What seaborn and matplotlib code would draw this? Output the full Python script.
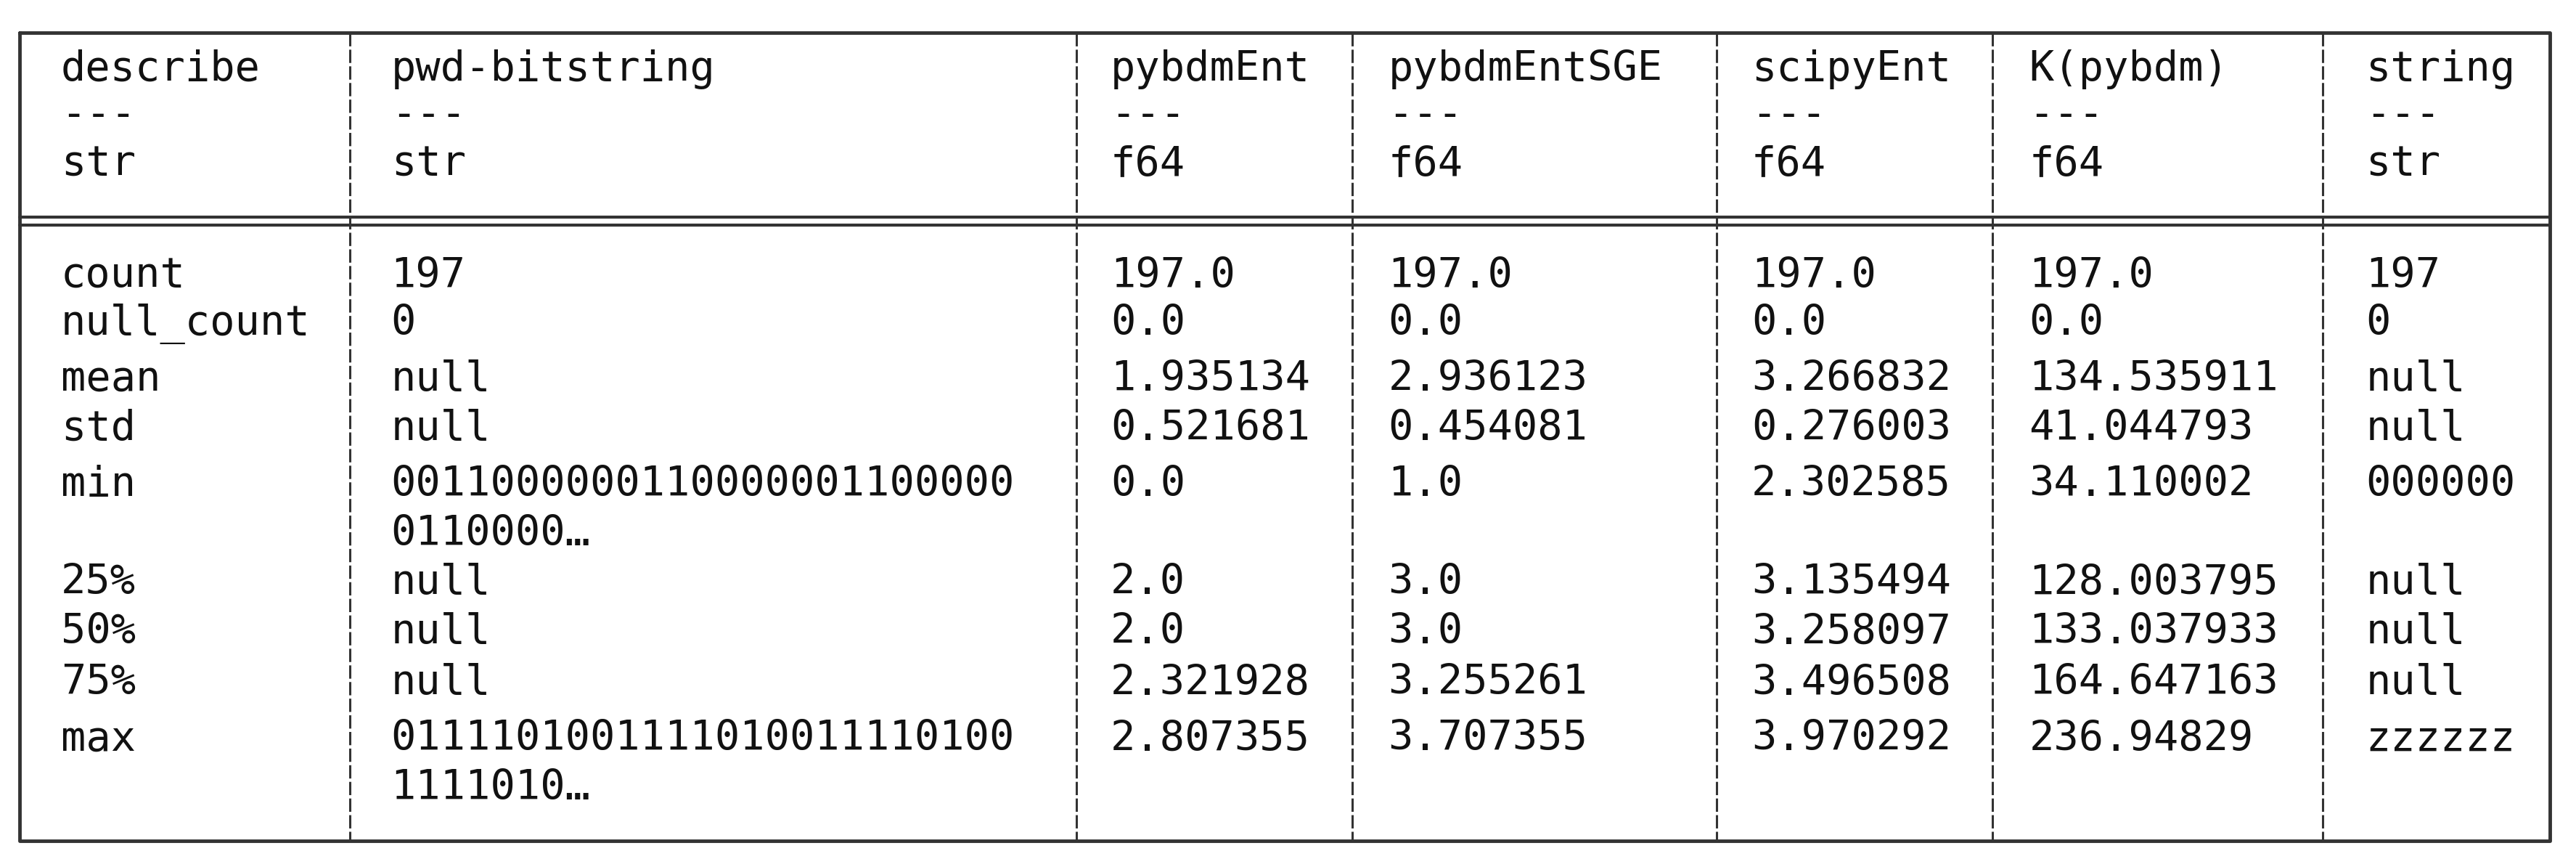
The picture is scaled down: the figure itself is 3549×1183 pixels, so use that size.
import matplotlib
matplotlib.use("Agg")
import matplotlib.pyplot as plt
import seaborn as sns

columns = ["describe", "pwd-bitstring", "pybdmEnt", "pybdmEntSGE", "scipyEnt", "K(pybdm)", "string"]
dtypes = ["str", "str", "f64", "f64", "f64", "f64", "str"]
stats = ["count", "null_count", "mean", "std", "min", "25%", "50%", "75%", "max"]
pwd_bitstring = ["197", "0", "null", "null", "0011000000110000001100000\n0110000…",
                 "null", "null", "null", "0111101001111010011110100\n1111010…"]
pybdm_ent = ["197.0", "0.0", "1.935134", "0.521681", "0.0", "2.0", "2.0", "2.321928", "2.807355"]
pybdm_ent_sge = ["197.0", "0.0", "2.936123", "0.454081", "1.0", "3.0", "3.0", "3.255261", "3.707355"]
scipy_ent = ["197.0", "0.0", "3.266832", "0.276003", "2.302585", "3.135494", "3.258097", "3.496508", "3.970292"]
k_pybdm = ["197.0", "0.0", "134.535911", "41.044793", "34.110002", "128.003795", "133.037933", "164.647163", "236.94829"]
string_col = ["197", "0", "null", "null", "000000", "null", "null", "null", "zzzzzz"]

sns.set_style("white")
plt.rcParams['font.family'] = ['DejaVu Sans Mono']

fig = plt.figure(figsize=(35.49, 11.83), dpi=100)
ax = fig.add_axes([0, 0, 1, 1])
ax.set_xlim(0, 1568)
ax.set_ylim(523, 0)
ax.axis("off")

line_c = "#333333"
left, right, top, bottom = 12, 1552, 20, 512
seps = [213, 655, 823, 1045, 1213, 1414]
text_x = [37, 238, 676, 845, 1066, 1235, 1440]

# outer box
ax.plot([left, right, right, left, left], [top, top, bottom, bottom, top], color=line_c, lw=3.5)
for x in seps:
    ax.plot([x, x], [top, bottom], color=line_c, lw=2.2, dashes=(6, 1.5))
ax.plot([left, right], [132, 132], color=line_c, lw=3)
ax.plot([left, right], [137, 137], color=line_c, lw=3)

fs = 41
for x, name, dt in zip(text_x, columns, dtypes):
    ax.text(x, 42, name, fontsize=fs, va="center", ha="left", color="#111111")
    ax.text(x, 70, "---", fontsize=fs, va="center", ha="left", color="#111111")
    ax.text(x, 100, dt, fontsize=fs, va="center", ha="left", color="#111111")

row_y = [168, 197, 231, 261, 295, 355, 385, 416, 450]
cols_data = [stats, pwd_bitstring, pybdm_ent, pybdm_ent_sge, scipy_ent, k_pybdm, string_col]
for x, vals in zip(text_x, cols_data):
    for y, v in zip(row_y, vals):
        for k, part in enumerate(v.split("\n")):
            ax.text(x, y + k * 30, part, fontsize=fs, va="center", ha="left", color="#111111")

fig.savefig("out.png", dpi=100, facecolor="white")
